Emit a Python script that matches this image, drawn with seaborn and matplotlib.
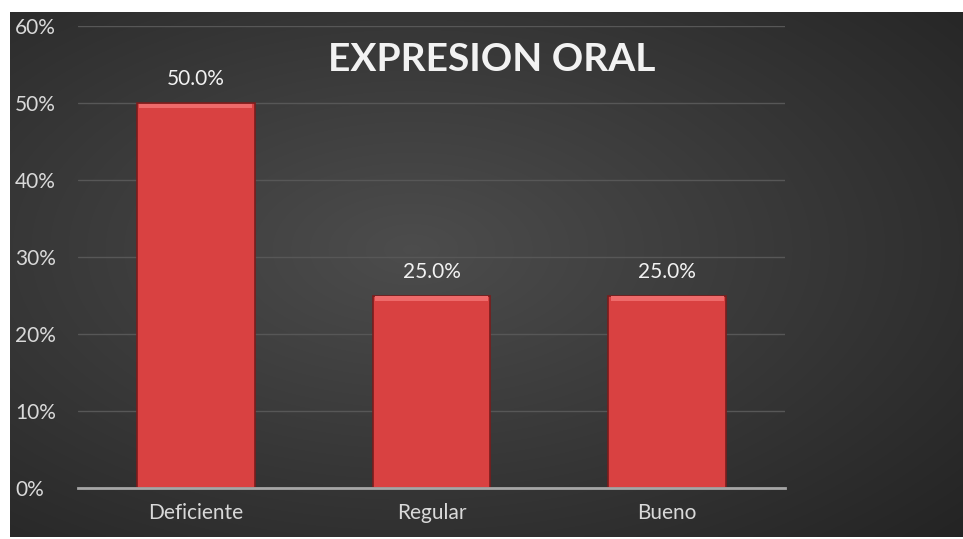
import numpy as np
import pandas as pd
import matplotlib
matplotlib.use("Agg")
import matplotlib.pyplot as plt
import seaborn as sns

categories = ["Deficiente", "Regular", "Bueno"]
values = [0.50, 0.25, 0.25]
labels = ["50.0%", "25.0%", "25.0%"]
yticks = [0, 0.1, 0.2, 0.3, 0.4, 0.5, 0.6]
ytick_labels = ["0%", "10%", "20%", "30%", "40%", "50%", "60%"]
title = "EXPRESION ORAL"

sns.set_theme(style="dark")
plt.rcParams['font.family'] = ['Lato', 'DejaVu Sans']

W, H = 963, 539
fig = plt.figure(figsize=(W / 100, H / 100), dpi=100)
fig.patch.set_facecolor("white")

# background gradient panel
bg = fig.add_axes([10 / W, 2 / H, (W - 10) / W, (H - 14) / H])
yy, xx = np.mgrid[0:200, 0:360]
cx, cy = 360 * 0.42, 90
d = np.sqrt(((xx - cx) / 360) ** 2 + ((yy - cy) / 200) ** 2)
d = d / d.max()
g = 0.30 - 0.16 * d
bg.imshow(np.dstack([g, g, g]), aspect="auto", extent=[0, 1, 0, 1], interpolation="bilinear")
bg.set_axis_off()

ax = fig.add_axes([78 / W, 51 / H, (785 - 78) / W, (488 - 26) / H])
ax.patch.set_alpha(0)
df = pd.DataFrame({"cat": categories, "val": values})
sns.barplot(data=df, x="cat", y="val", ax=ax, color="#d94141", width=0.5,
            edgecolor="#7a1c1c", linewidth=1.2, saturation=1)

# bevel highlight on top of bars
for p in ax.patches:
    x0, w, h = p.get_x(), p.get_width(), p.get_height()
    ax.fill_between([x0 + 0.01, x0 + w - 0.01], h - 0.007, h - 0.001, color="#ee6a6a", zorder=3, lw=0)

ax.set_ylim(0, 0.6)
ax.set_xlim(-0.5, 2.5)
ax.set_yticks(yticks)
ax.set_yticklabels(ytick_labels)
ax.set_xlabel("")
ax.set_ylabel("")
ax.tick_params(axis="both", colors="#d9d9d9", labelsize=15, length=0)
ax.tick_params(axis="y", pad=(78 - 15) * 0.72)
ax.tick_params(axis="x", pad=11)
for lab in ax.get_yticklabels():
    lab.set_color("#d9d9d9")
    lab.set_horizontalalignment("left")
for lab in ax.get_xticklabels():
    lab.set_color("#d9d9d9")
ax.grid(axis="y", color="#575757", linewidth=1)
ax.set_axisbelow(True)
for s in ["top", "right", "left"]:
    ax.spines[s].set_visible(False)
ax.spines["bottom"].set_color("#a6a6a6")
ax.spines["bottom"].set_linewidth(2)

for i, (v, t) in enumerate(zip(values, labels)):
    ax.text(i, v + 0.018, t, ha="center", va="bottom", color="#f2f2f2", fontsize=15)

fig.text(492 / W, 1 - 60 / H, title, ha="center", va="center", color="#f2f2f2",
         fontsize=28, fontweight="bold")

fig.savefig("out.png", dpi=100)
